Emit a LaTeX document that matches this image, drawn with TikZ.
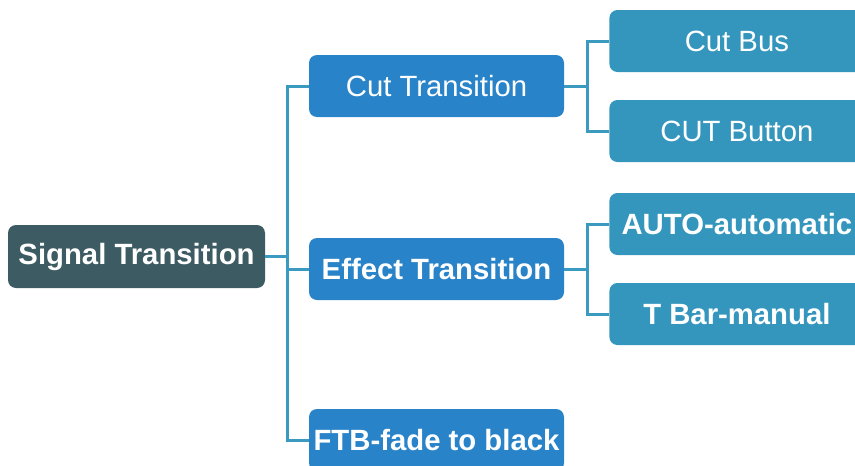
\documentclass[tikz,border=0pt]{standalone}
\usepackage{fontspec}
\setmainfont{Liberation Sans}
\usepackage{tikz}
\usetikzlibrary{calc}
\usetikzlibrary{positioning}

\definecolor{rootgray}{HTML}{3D5B63}
\definecolor{midblue}{HTML}{2983C8}
\definecolor{leafblue}{HTML}{3596BD}
\definecolor{linkblue}{HTML}{3A9AC0}

\tikzset{
  box/.style={rounded corners=8pt,minimum width=255pt,minimum height=62pt,inner sep=0pt,text=white,font=\fontsize{29.3}{34}\selectfont},
  rootbox/.style={box,minimum width=257pt,minimum height=63pt,fill=rootgray,font=\fontsize{29.3}{34}\selectfont\bfseries},
  midbox/.style={box,fill=midblue},
  leafbox/.style={box,fill=leafblue},
  link/.style={draw=linkblue,line width=3pt},
}

\begin{document}
\begin{tikzpicture}[x=1pt,y=1pt]

\useasboundingbox (0,0) rectangle (855,-466);
\clip (0,0) rectangle (855,-466);

\node[rootbox] (root) at (136.5,-256.5) {Signal Transition};

\node[midbox] (cut) at (436.5,-86) {Cut Transition};
\node[midbox,font=\fontsize{29.3}{34}\selectfont\bfseries] (effect) at (436.5,-269) {Effect Transition};
\node[midbox,font=\fontsize{29.3}{34}\selectfont\bfseries] (ftb) at (436.5,-440) {FTB-fade to black};

\node[leafbox,right=45pt of cut,yshift=45pt] (cut bus) {Cut Bus};
\node[leafbox,right=45pt of cut,yshift=-45pt] (cut button) {CUT Button};
\node[leafbox,right=45pt of effect,yshift=45pt,font=\fontsize{29.3}{34}\selectfont\bfseries] (auto) {AUTO-automatic};
\node[leafbox,right=45pt of effect,yshift=-45pt,font=\fontsize{29.3}{34}\selectfont\bfseries] (tbar) {T Bar-manual};

\draw[link] (root.east) -- ++(22pt,0) |- (cut.west);
\draw[link] (root.east) -- ++(22pt,0) |- (effect.west);
\draw[link] (root.east) -- ++(22pt,0) |- (ftb.west);

\draw[link] (cut.east) -- ++(23pt,0) |- (cut bus.west);
\draw[link] (cut.east) -- ++(23pt,0) |- (cut button.west);
\draw[link] (effect.east) -- ++(23pt,0) |- (auto.west);
\draw[link] (effect.east) -- ++(23pt,0) |- (tbar.west);

\end{tikzpicture}
\end{document}
